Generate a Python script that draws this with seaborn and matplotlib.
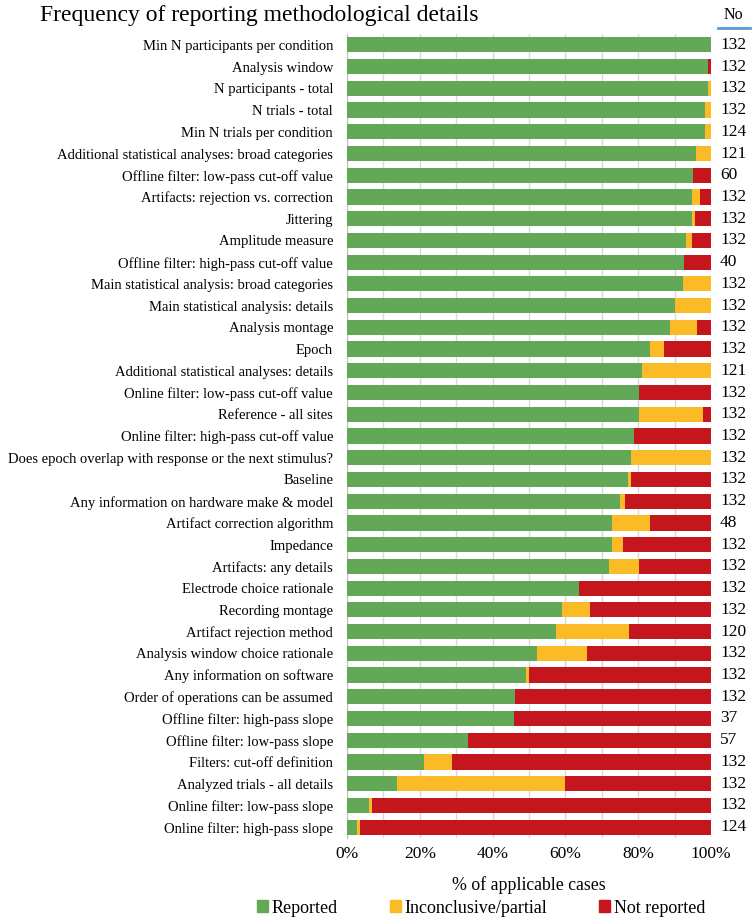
import seaborn as sns
import matplotlib.pyplot as plt
import pandas as pd
import numpy as np
from matplotlib.patches import Patch
from matplotlib.lines import Line2D

# categories, top to bottom
items = [
    'Min N participants per condition', 'Analysis window', 'N participants - total',
    'N trials - total', 'Min N trials per condition',
    'Additional statistical analyses: broad categories',
    'Offline filter: low-pass cut-off value', 'Artifacts: rejection vs. correction',
    'Jittering', 'Amplitude measure', 'Offline filter: high-pass cut-off value',
    'Main statistical analysis: broad categories', 'Main statistical analysis: details',
    'Analysis montage', 'Epoch', 'Additional statistical analyses: details',
    'Online filter: low-pass cut-off value', 'Reference - all sites',
    'Online filter: high-pass cut-off value',
    'Does epoch overlap with response or the next stimulus?', 'Baseline',
    'Any information on hardware make & model', 'Artifact correction algorithm',
    'Impedance', 'Artifacts: any details', 'Electrode choice rationale',
    'Recording montage', 'Artifact rejection method', 'Analysis window choice rationale',
    'Any information on software', 'Order of operations can be assumed',
    'Offline filter: high-pass slope', 'Offline filter: low-pass slope',
    'Filters: cut-off definition', 'Analyzed trials - all details',
    'Online filter: low-pass slope', 'Online filter: high-pass slope',
]

# % of applicable cases
reported = [100, 99.2, 99.2, 98.4, 98.4, 95.9, 95.0, 94.7, 94.7, 93.2, 92.5,
            92.4, 90.2, 88.6, 83.3, 81.0, 80.3, 80.3, 78.8, 78.0, 77.3, 75.0,
            72.9, 72.7, 72.0, 63.6, 59.1, 57.5, 52.3, 49.2, 46.2, 45.9, 33.3,
            21.2, 13.6, 6.1, 2.8]
inconclusive = [0, 0, 0.8, 1.6, 1.6, 4.1, 0, 2.3, 0.8, 1.5, 0,
                7.6, 9.8, 7.6, 3.8, 19.0, 0, 17.4, 0, 22.0, 0.8, 1.5,
                10.4, 3.0, 8.3, 0, 7.6, 20.0, 13.6, 0.8, 0, 0, 0,
                7.6, 46.2, 0.8, 0.8]
not_reported = [0, 0.8, 0, 0, 0, 0, 5.0, 3.0, 4.5, 5.3, 7.5,
                0, 0, 3.8, 12.9, 0, 19.7, 2.3, 21.2, 0, 21.9, 23.5,
                16.7, 24.3, 19.7, 36.4, 33.3, 22.5, 34.1, 50.0, 53.8, 54.1, 66.7,
                71.2, 40.2, 93.1, 96.4]
n_cases = [132, 132, 132, 132, 124, 121, 60, 132, 132, 132, 40, 132, 132, 132,
           132, 121, 132, 132, 132, 132, 132, 132, 48, 132, 132, 132, 132, 120,
           132, 132, 132, 37, 57, 132, 132, 132, 124]

green = '#63a856'
yellow = '#fbbb27'
red = '#c4161c'

df = pd.DataFrame({'item': items, 'rep': reported, 'inc': inconclusive, 'nr': not_reported})
df['c2'] = df['rep'] + df['inc']
df['c3'] = df['c2'] + df['nr']

plt.rcParams['font.family'] = ['Liberation Serif', 'DejaVu Serif']
fig = plt.figure(figsize=(7.52, 9.21), dpi=100)
ax = fig.add_axes([347 / 752, 1 - 838 / 921, 364 / 752, (838 - 34) / 921])

# stacked bars: draw cumulative totals back to front
sns.barplot(data=df, y='item', x='c3', color=red, orient='h', width=0.7,
            saturation=1, ax=ax, zorder=2)
sns.barplot(data=df, y='item', x='c2', color=yellow, orient='h', width=0.7,
            saturation=1, ax=ax, zorder=3)
sns.barplot(data=df, y='item', x='rep', color=green, orient='h', width=0.7,
            saturation=1, ax=ax, zorder=4)

ax.set_xlim(0, 100)
ax.set_ylim(len(items) - 0.5, -0.5)
ax.set_xticks(np.arange(0, 101, 20))
ax.set_xticklabels([f'{v}%' for v in range(0, 101, 20)], fontsize=12.5)
ax.set_xticks(np.arange(0, 101, 10), minor=True)
ax.grid(axis='x', which='both', color='#d9d9d9', linewidth=1, zorder=0)
ax.set_axisbelow(True)
ax.tick_params(axis='both', which='both', length=0)
ax.tick_params(axis='y', labelsize=10.5, pad=10)
ax.tick_params(axis='x', pad=6)
ax.set_ylabel('')
ax.set_xlabel('% of applicable cases', fontsize=12.8, labelpad=10)
for s in ['top', 'right', 'bottom']:
    ax.spines[s].set_visible(False)
ax.spines['left'].set_color('#bfbfbf')

for i, n in enumerate(n_cases):
    ax.text(102.5, i, str(n), va='center', ha='left', fontsize=12.5)

fig.text(259 / 752, 1 - 15 / 921, 'Frequency of reporting methodological details',
         ha='center', va='center', fontsize=17)
fig.text(733 / 752, 1 - 15 / 921, 'No', ha='center', va='center', fontsize=11.5)
fig.add_artist(Line2D([718 / 752, 750 / 752], [1 - 28 / 921, 1 - 28 / 921],
                      color='#5b9bd5', linewidth=2, transform=fig.transFigure))

handles = [Patch(color=green, label='Reported'),
           Patch(color=yellow, label='Inconclusive/partial'),
           Patch(color=red, label='Not reported')]
fig.legend(handles=handles, loc='center', bbox_to_anchor=(481 / 752, 1 - 908 / 921),
           ncol=3, frameon=False, fontsize=13, handlelength=0.6, handleheight=0.6,
           handletextpad=0.2, columnspacing=2.9)

fig.savefig('out.png', dpi=100)
